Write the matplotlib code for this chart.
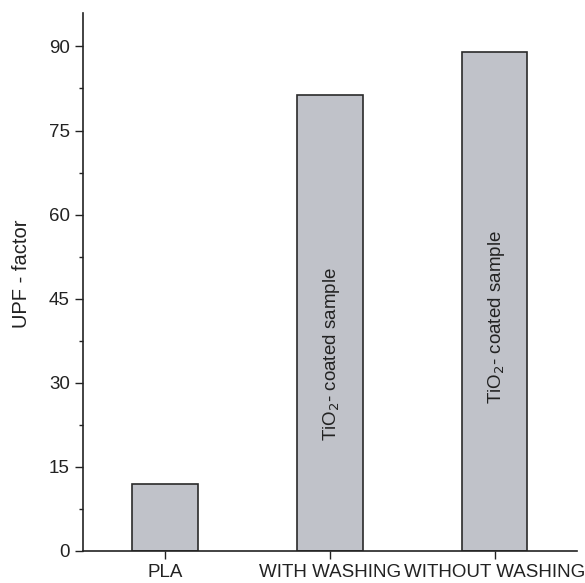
import numpy as np
import matplotlib
matplotlib.use("Agg")
import matplotlib.pyplot as plt

plt.rcParams["font.family"] = ["Liberation Sans", "DejaVu Sans"]

categories = ["PLA", "WITH WASHING", "WITHOUT WASHING"]
upf = [12.0, 81.4, 89.0]
bar_notes = ["", r"TiO$_2$- coated sample", r"TiO$_2$- coated sample"]
note_y = [0, 35.1, 41.7]

fig = plt.figure(figsize=(5.85, 5.83), dpi=100)
ax = fig.add_axes([0.142, 0.055, 0.844, 0.923])

x = np.arange(len(categories))
ax.bar(x, upf, 0.4, color="#c0c2c9", edgecolor="#2a2a2a", linewidth=1.2, zorder=2)
for xi, note, ny in zip(x, bar_notes, note_y):
    if note:
        ax.text(xi + 0.01, ny, note, rotation=90, ha="center", va="center",
                fontsize=13.5, color="#222222")

ax.set_xlim(-0.5, 2.5)
ax.set_ylim(0, 96)
ax.set_xticks(x)
ax.set_xticklabels(categories)
ax.set_yticks(np.arange(0, 91, 15))
ax.set_yticks(np.arange(7.5, 91, 15), minor=True)
ax.tick_params(axis="both", which="major", length=6, width=1, labelsize=13.5, colors="#222222")
ax.tick_params(axis="y", which="minor", length=3, width=1, colors="#222222")
ax.set_ylabel("UPF - factor", fontsize=14.5, color="#222222")
ax.yaxis.set_label_coords(-0.106, 0.515)
for s in ["top", "right"]:
    ax.spines[s].set_visible(False)
for s in ["left", "bottom"]:
    ax.spines[s].set_color("#222222")
    ax.spines[s].set_linewidth(1.2)

plt.savefig("out.png", dpi=100)
